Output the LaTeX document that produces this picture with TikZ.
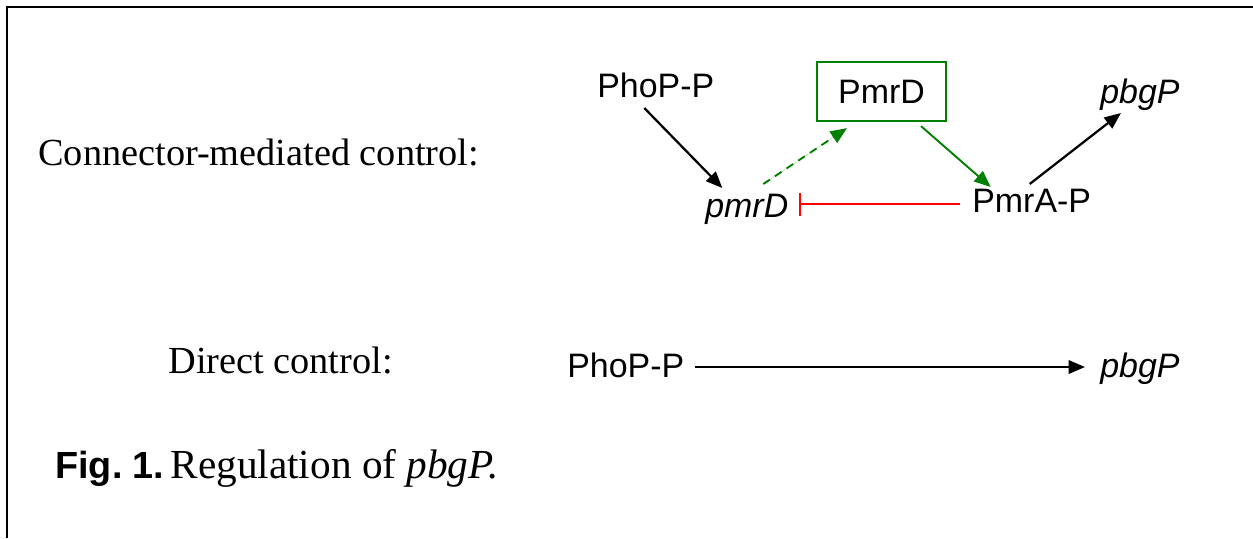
\documentclass[tikz,border=0pt]{standalone}
\usepackage{fontspec}
\setmainfont{Liberation Serif}
\newfontfamily\arialf{Liberation Sans}
\usetikzlibrary{arrows.meta}
\definecolor{dgreen}{RGB}{0,128,0}
\definecolor{bred}{RGB}{255,0,0}
\tikzset{
  lbl/.style={inner sep=0pt, font=\arialf\fontsize{19.3}{22}\selectfont},
  serif/.style={inner sep=0pt, font=\fontsize{21.8}{24}\selectfont},
  act/.style={line width=0.045cm, -{Triangle[length=0.33cm,width=0.27cm]}},
  gact/.style={act, draw=dgreen, fill=dgreen, line width=0.038cm},
  gdash/.style={gact, dash pattern=on 0.16cm off 0.12cm},
  inhib/.style={draw=bred, line width=0.05cm, -{Bar[width=0.46cm]}},
  gbox/.style={draw=dgreen, line width=0.045cm, minimum width=2.58cm, minimum height=1.18cm, inner sep=0pt, font=\arialf\fontsize{19.3}{22}\selectfont}
}
\begin{document}
\begin{tikzpicture}[x=0.02cm, y=-0.02cm]
\useasboundingbox (0,0) rectangle (1253,538);
% frame
\draw[line width=0.04cm] (7,538) -- (7,7) -- (1253,7);
% left labels
\node[serif, anchor=base west] (lab1) at (38,165) {Connector-mediated control:};
\node[serif, anchor=base west] (lab2) at (168,373) {Direct control:};
% top network
\node[lbl, anchor=base west] (phop1) at (597,97) {PhoP-P};
\node[gbox] (pmrdbox) at (881.5,91.5) {PmrD};
\node[lbl, anchor=base west] (pbgp1) at (1100,103) {\itshape pbgP};
\node[lbl, anchor=base west] (pmrd) at (705,217) {\itshape pmrD};
\node[lbl, anchor=base west] (pmra) at (972,212) {PmrA-P};
\draw[act] ([shift={(-11.5,11)}]phop1.base) -- ([shift={(-24.5,-29)}]pmrd.base);
\draw[gdash] ([shift={(16.5,-33)}]pmrd.base) -- ([shift={(-34.5,6)}]pmrdbox.south);
\draw[gact] ([shift={(39.5,4)}]pmrdbox.south) -- ([shift={(-41,-25)}]pmra.base);
\draw[act] ([shift={(-2,-28)}]pmra.base) -- ([shift={(-19,10)}]pbgp1.base);
\draw[inhib] ([shift={(-12,-8)}]pmra.base west) -- ([shift={(10,-13)}]pmrd.base east);
% bottom
\node[lbl, anchor=base west] (phop2) at (567,377) {PhoP-P};
\node[lbl, anchor=base west] (pbgp2) at (1100,377) {\itshape pbgP};
\draw[act] ([shift={(10,-10)}]phop2.base east) -- ([shift={(-15,-10)}]pbgp2.base west);
% caption
\node[inner sep=0pt, anchor=base west, font=\fontsize{23.5}{26}\selectfont] (cap) at (55,478) {{\arialf\bfseries\fontsize{21.5}{24}\selectfont Fig.~1.}\hspace{0.12cm}Regulation of \textit{pbgP.}};
\end{tikzpicture}
\end{document}
